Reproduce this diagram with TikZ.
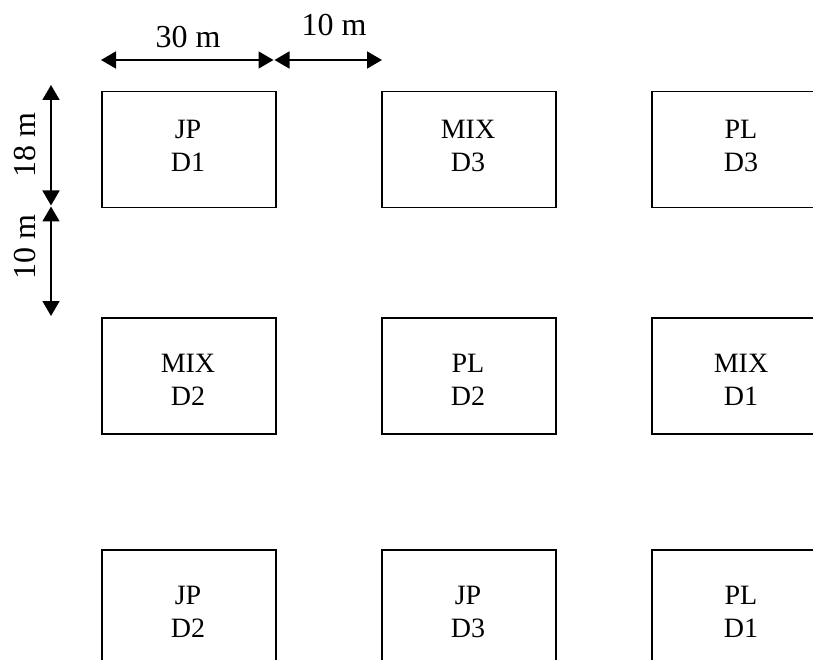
\documentclass[tikz,border=0pt]{standalone}
\usepackage{fontspec}
\setmainfont{Liberation Serif}
\usetikzlibrary{arrows.meta}
\begin{document}
\begin{tikzpicture}[x=1pt,y=-1pt,
  plot/.style={draw, line width=1.5pt, minimum width=174pt, minimum height=116pt, inner sep=0pt, anchor=north west},
  plottext/.style={font=\fontsize{28}{33}\selectfont, align=center, anchor=base, inner sep=0pt},
  dimtext/.style={font=\fontsize{32}{36}\selectfont, anchor=base, inner sep=0pt},
  dim/.style={line width=1.6pt, {Triangle[length=15pt,width=17pt]}-{Triangle[length=15pt,width=17pt]}}]
\useasboundingbox (0,0) rectangle (813,660);
\clip (0,0) rectangle (813,660);
% plots
\node[plot] (b11) at (101,91) {};
\node[plot] (b12) at (381,91) {};
\node[plot] (b13) at (651,91) {};
\node[plot] (b21) at (101,317) {};
\node[plot] (b22) at (381,317) {};
\node[plot] (b23) at (651,317) {};
\node[plot] (b31) at (101,549) {};
\node[plot] (b32) at (381,549) {};
\node[plot] (b33) at (651,549) {};
% texts (anchored at the baseline of the second line)
\node[plottext] (t11) at (188,172) {JP\\D1};
\node[plottext] (t12) at (468,172) {MIX\\D3};
\node[plottext] (t13) at (741,172) {PL\\D3};
\node[plottext] (t21) at (188,405) {MIX\\D2};
\node[plottext] (t22) at (468,405) {PL\\D2};
\node[plottext] (t23) at (741,405) {MIX\\D1};
\node[plottext] (t31) at (188,637) {JP\\D2};
\node[plottext] (t32) at (468,637) {JP\\D3};
\node[plottext] (t33) at (741,637) {PL\\D1};
% dimension arrows
\coordinate (h1) at (101,60);
\coordinate (h2) at (273.5,60);
\coordinate (h3) at (274.5,60);
\coordinate (h4) at (382,60);
\coordinate (v1) at (51,85);
\coordinate (v2) at (51,205.5);
\coordinate (v3) at (51,206.5);
\coordinate (v4) at (51,316);
\draw[dim] (h1) -- (h2);
\draw[dim] (h3) -- (h4);
\draw[dim] (v1) -- (v2);
\draw[dim] (v3) -- (v4);
\node[dimtext] (l30) at (188,48) {30 m};
\node[dimtext] (l10h) at (334,36) {10 m};
\node[dimtext, rotate=90] (l18) at (35,145) {18 m};
\node[dimtext, rotate=90] (l10v) at (35,247) {10 m};
\end{tikzpicture}
\end{document}
